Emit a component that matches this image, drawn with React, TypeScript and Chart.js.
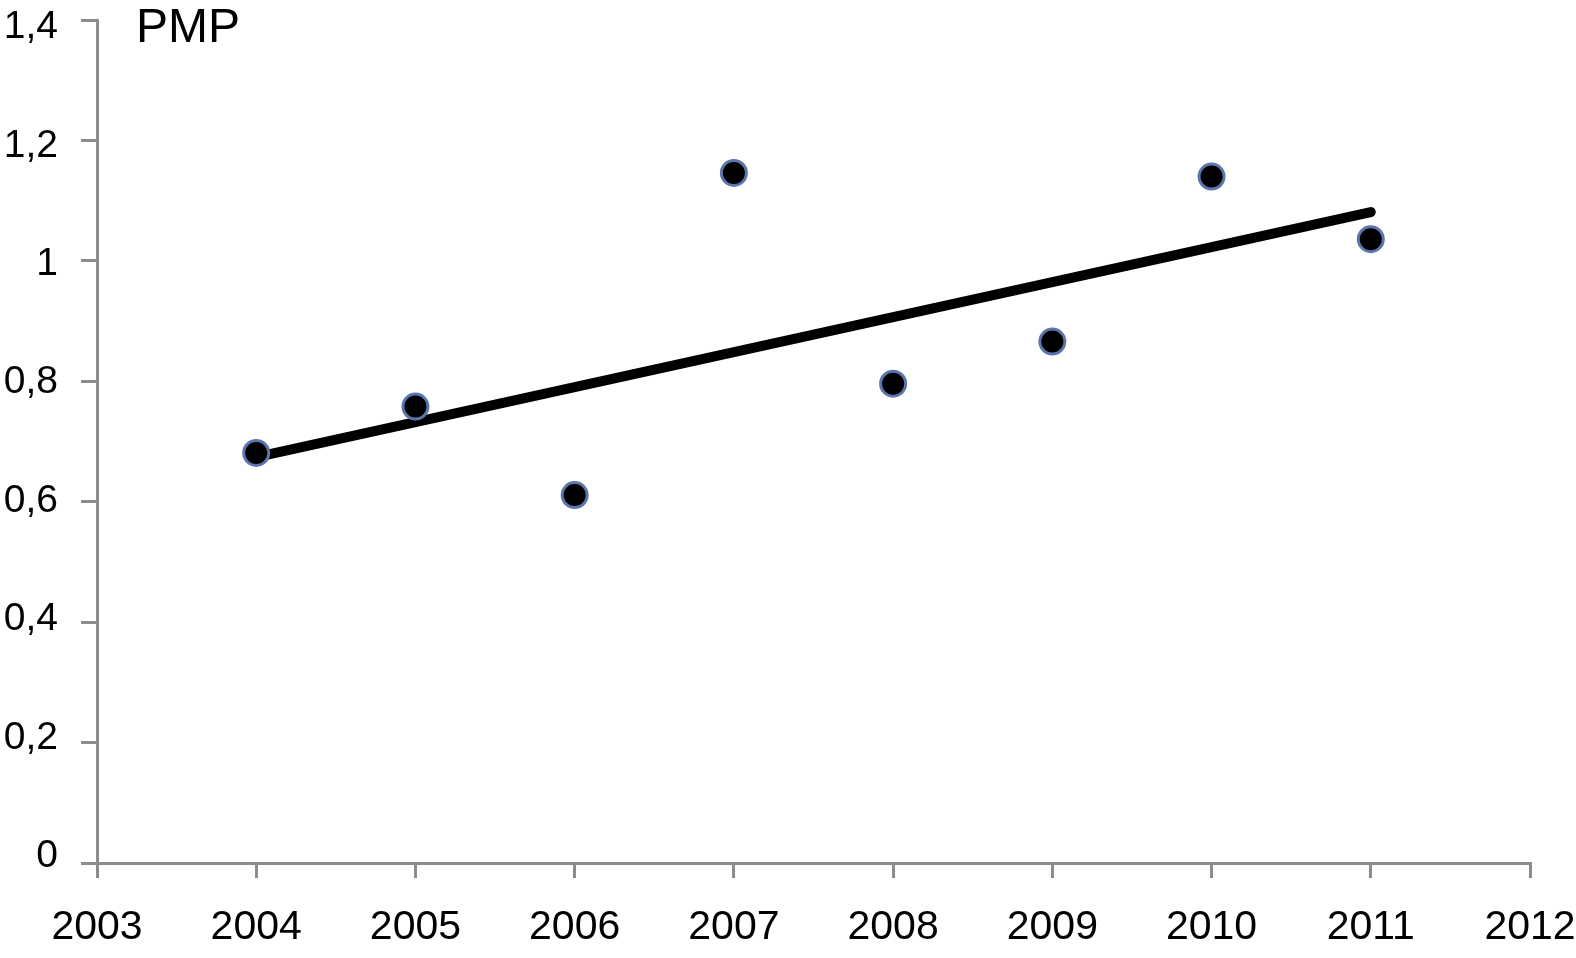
import React, { useEffect, useRef } from 'react';
import { Chart, registerables } from 'chart.js';

Chart.register(...registerables);

const years = [2004, 2005, 2006, 2007, 2008, 2009, 2010, 2011];
const pmpValues = [0.681, 0.758, 0.611, 1.146, 0.796, 0.866, 1.14, 1.036];
const trendYears = [2004, 2011];
const trendValues = [0.674, 1.081];
const xTickValues = [2003, 2004, 2005, 2006, 2007, 2008, 2009, 2010, 2011, 2012];
const xTickLabels = ['2003', '2004', '2005', '2006', '2007', '2008', '2009', '2010', '2011', '2012'];
const yTickValues = [0, 0.2, 0.4, 0.6, 0.8, 1, 1.2, 1.4];
const yTickLabels = ['0', '0,2', '0,4', '0,6', '0,8', '1', '1,2', '1,4'];
const seriesTitle = 'PMP';

const FONT = '"Liberation Sans", Arial, Helvetica, sans-serif';
const AXIS = '#8c8c8c';

const titlePlugin = {
  id: 'pmpTitle',
  afterDraw(chart: any) {
    const ctx = chart.ctx;
    ctx.save();
    ctx.fillStyle = '#000';
    ctx.font = `48px ${FONT}`;
    ctx.textAlign = 'left';
    ctx.textBaseline = 'alphabetic';
    ctx.fillText(seriesTitle, chart.chartArea.left + 39, 42);
    ctx.restore();
  },
};

// the y labels in the reference sit slightly closer together than the ticks
function squeezeYLabels(s: any) {
  if (s.__squeezed) return;
  s.__squeezed = true;
  const orig = s._computeLabelItems.bind(s);
  s._computeLabelItems = (ca: any) => {
    const items = orig(ca);
    const top = s.top;
    items.forEach((it: any) => {
      const t = it.options && it.options.translation;
      if (t) t[1] = top + 7.5 + (t[1] - top) * 0.983;
    });
    return items;
  };
}

export default function App() {
  const ref = useRef<HTMLCanvasElement | null>(null);
  useEffect(() => {
    if (!ref.current) return;
    const chart = new Chart(ref.current, {
      type: 'scatter',
      data: {
        datasets: [
          {
            label: 'trend',
            data: trendYears.map((x, i) => ({ x, y: trendValues[i] })),
            showLine: true,
            borderColor: '#000',
            borderWidth: 10,
            pointRadius: 0,
            borderCapStyle: 'round',
            order: 1,
          },
          {
            label: seriesTitle,
            data: years.map((x, i) => ({ x, y: pmpValues[i] })),
            backgroundColor: '#000',
            borderColor: '#5a76ad',
            borderWidth: 3,
            pointRadius: 12.5,
            order: 0,
          },
        ],
      },
      options: {
        responsive: false,
        animation: false,
        layout: { padding: { top: 20, right: 46, left: 0, bottom: 0 } },
        plugins: { legend: { display: false }, tooltip: { enabled: false } },
        scales: {
          x: {
            type: 'linear',
            min: 2003,
            max: 2012,
            afterBuildTicks: (s: any) => {
              s.ticks = xTickValues.map((v) => ({ value: v }));
            },
            afterFit: (s: any) => {
              s.height = 95;
              s.paddingLeft = 0;
              s.paddingRight = 0;
            },
            ticks: {
              callback: (_v: any, i: number) => xTickLabels[i],
              font: { family: FONT, size: 41 },
              color: '#000',
              padding: 25,
              maxRotation: 0,
              autoSkip: false,
            },
            grid: {
              drawOnChartArea: false,
              drawTicks: true,
              tickLength: 15,
              color: AXIS,
              lineWidth: 3,
            },
            border: { display: true, color: AXIS, width: 3 },
          },
          y: {
            type: 'linear',
            min: 0,
            max: 1.4,
            afterBuildTicks: (s: any) => {
              s.ticks = yTickValues.map((v) => ({ value: v }));
            },
            afterFit: (s: any) => {
              s.width = 97;
              s.paddingTop = 0;
              s.paddingBottom = 0;
              squeezeYLabels(s);
            },
            ticks: {
              callback: (_v: any, i: number) => yTickLabels[i],
              font: { family: FONT, size: 39 },
              color: '#000',
              padding: 23,
              autoSkip: false,
            },
            grid: {
              drawOnChartArea: false,
              drawTicks: true,
              tickLength: 16,
              color: AXIS,
              lineWidth: 3,
            },
            border: { display: true, color: AXIS, width: 3 },
          },
        },
      },
      plugins: [titlePlugin],
    });
    return () => chart.destroy();
  }, []);
  return (
    <div style={{ position: 'fixed', left: 0, top: 0, width: 1576, height: 958, background: '#fff' }}>
      <canvas ref={ref} width={1576} height={958} style={{ display: 'block' }} />
    </div>
  );
}
